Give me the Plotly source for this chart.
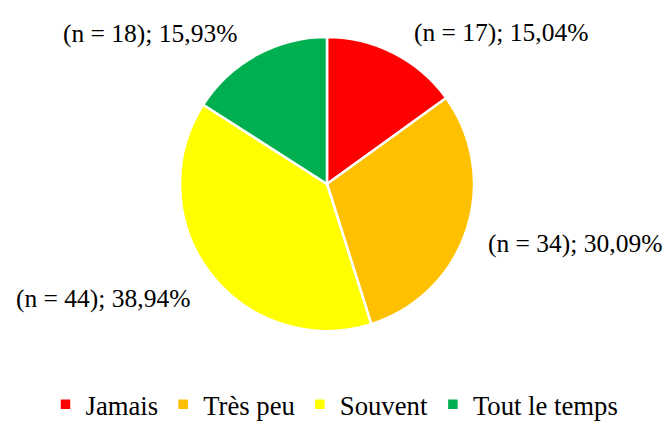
import plotly.graph_objects as go

categories = ["Jamais", "Très peu", "Souvent", "Tout le temps"]
counts = [17, 34, 44, 18]
percents = ["15,04%", "30,09%", "38,94%", "15,93%"]
colors = ["#FF0000", "#FFC000", "#FFFF00", "#00B050"]

W, H = 667, 423
# label placement in pixels (layout only), converted to paper coords
label_px = [(501, 32), (575, 243), (103, 298), (150, 33)]

SERIF = "Liberation Serif, Times New Roman, serif"
fig = go.Figure(go.Pie(
    labels=categories, values=counts,
    marker=dict(colors=colors, line=dict(color="white", width=2.5)),
    sort=False, direction="clockwise", rotation=0,
    textinfo="none", hoverinfo="label+value+percent",
    domain=dict(x=[180 / W, 474 / W], y=[1 - 331 / H, 1 - 37 / H]),
))

for c, p, (px, py) in zip(counts, percents, label_px):
    fig.add_annotation(x=px / W, y=1 - py / H, xref="paper", yref="paper", showarrow=False,
                       xanchor="center", yanchor="middle",
                       text=f"(n = {c}); {p}",
                       font=dict(family=SERIF, size=25.5, color="black"))

fig.update_layout(
    width=W, height=H, margin=dict(l=0, r=0, t=0, b=0, autoexpand=False),
    paper_bgcolor="white", plot_bgcolor="white",
    font=dict(family=SERIF, size=26.7, color="black"),
    legend=dict(orientation="h", x=0.5015, xanchor="center", y=-0.013, yanchor="bottom",
                traceorder="normal", itemwidth=30,
                font=dict(family=SERIF, size=26.7, color="black")),
    showlegend=True,
)
fig.write_html("out.html", config={"displayModeBar": False},
               post_script="document.body.style.margin='0';")
